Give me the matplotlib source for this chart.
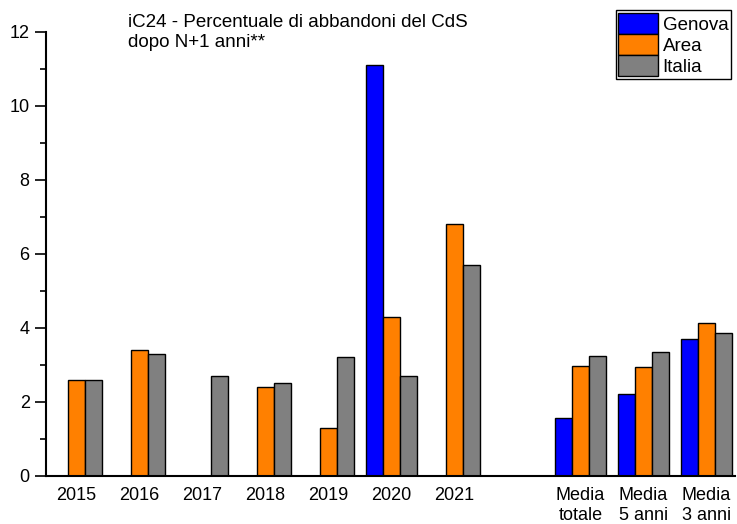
import numpy as np
import matplotlib
matplotlib.use('Agg')
import matplotlib.pyplot as plt
from matplotlib.ticker import MultipleLocator

plt.rcParams['font.family'] = ['Liberation Sans', 'DejaVu Sans']

# dati
categorie = ['2015', '2016', '2017', '2018', '2019', '2020', '2021', '',
             'Media\ntotale', 'Media\n5 anni', 'Media\n3 anni']
genova = [np.nan, np.nan, np.nan, np.nan, np.nan, 11.1, np.nan, np.nan, 1.57, 2.2, 3.69]
area = [2.6, 3.4, np.nan, 2.4, 1.3, 4.3, 6.8, np.nan, 2.96, 2.95, 4.12]
italia = [2.6, 3.3, 2.7, 2.5, 3.2, 2.7, 5.7, np.nan, 3.23, 3.35, 3.87]

serie = [('Genova', genova, '#0000FF'),
         ('Area', area, '#FF8000'),
         ('Italia', italia, '#808080')]

fig = plt.figure(figsize=(7.37, 5.24), dpi=100)
ax = fig.add_axes([0.062, 0.092, 0.935, 0.8475])

x = np.arange(len(categorie))
w = 0.27
for i, (nome, val, col) in enumerate(serie):
    ax.bar(x + (i - 1) * w, val, w, color=col, edgecolor='black',
           linewidth=1, label=nome)

ax.set_xlim(-0.49, 10.45)
ax.set_ylim(0, 12)
ax.yaxis.set_major_locator(MultipleLocator(2))
ax.yaxis.set_minor_locator(MultipleLocator(1))
ax.set_xticks(x)
ax.set_xticklabels(categorie, fontsize=13)
ax.tick_params(axis='x', length=0, pad=8)
ax.tick_params(axis='y', which='major', length=8, width=1.2, labelsize=13, direction='out')
ax.tick_params(axis='y', which='minor', length=4, width=1.2, direction='out')

ax.spines['top'].set_visible(False)
ax.spines['right'].set_visible(False)
ax.spines['left'].set_linewidth(1.5)
ax.spines['bottom'].set_linewidth(1.5)

# titolo in alto a sinistra
fig.text(0.173, 0.973, 'iC24 - Percentuale di abbandoni del CdS\ndopo N+1 anni**',
         fontsize=13.5, va='top', ha='left', linespacing=1.25)

leg = fig.legend(loc='upper right', bbox_to_anchor=(0.992, 0.981), fontsize=13.5,
                 handlelength=2.1, handleheight=1.35, labelspacing=0.0,
                 handletextpad=0.25, borderpad=0.15, borderaxespad=0,
                 fancybox=False, framealpha=1)
leg.get_frame().set_edgecolor('black')
leg.get_frame().set_linewidth(1)

fig.savefig('out.png', dpi=100)
